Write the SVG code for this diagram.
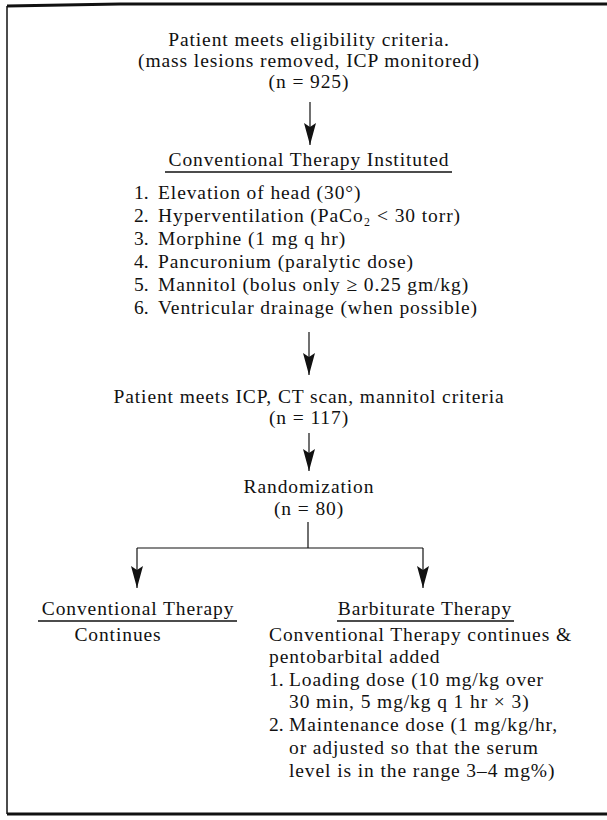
<svg xmlns="http://www.w3.org/2000/svg" width="607" height="820" viewBox="0 0 607 820">
<style>
  text { font-family: "Liberation Serif", "Times New Roman", serif; font-size: 19.5px; letter-spacing: 0.9px; fill: #111; }
  .c { text-anchor: middle; }
  .num { letter-spacing: 0; }
  .frame { stroke: #111; fill: none; }
  .ul { stroke: #111; stroke-width: 1.6; }
  .conn { stroke: #111; stroke-width: 1.2; fill: none; }
  .arr { marker-end: url(#ah); }
</style>
<defs>
  <marker id="ah" viewBox="-1 -7 24 14" refX="22" refY="0" markerWidth="24" markerHeight="14" markerUnits="userSpaceOnUse" orient="auto">
    <path d="M0,-6 L22,0 L0,6 L4,0 Z" fill="#111"/>
  </marker>
</defs>
<rect width="607" height="820" fill="#fff"/>
<g id="frame">
  <path class="frame" stroke-width="2.8" d="M7,6 L120,4 L607,4"/>
  <path class="frame" stroke-width="1.5" d="M7,6 L7,814"/>
  <path class="frame" stroke-width="2.8" d="M7,814 L607,814"/>
</g>
<g id="eligibility">
  <text class="c" x="309" y="46">Patient meets eligibility criteria.</text>
  <text class="c" x="309" y="67">(mass lesions removed, ICP monitored)</text>
  <text class="c" x="309" y="88">(n = 925)</text>
</g>
<g id="conventional-instituted">
  <text class="c" x="309" y="166">Conventional Therapy Instituted</text>
  <line class="ul" x1="165" y1="172" x2="452" y2="172"/>
  <text y="199"><tspan class="num" x="134">1.</tspan><tspan x="158">Elevation of head (30°)</tspan></text>
  <text y="222"><tspan class="num" x="134">2.</tspan><tspan x="158">Hyperventilation (PaCo₂ &lt; 30 torr)</tspan></text>
  <text y="245"><tspan class="num" x="134">3.</tspan><tspan x="158">Morphine (1 mg q hr)</tspan></text>
  <text y="268"><tspan class="num" x="134">4.</tspan><tspan x="158">Pancuronium (paralytic dose)</tspan></text>
  <text y="291"><tspan class="num" x="134">5.</tspan><tspan x="158">Mannitol (bolus only ≥ 0.25 gm/kg)</tspan></text>
  <text y="314"><tspan class="num" x="134">6.</tspan><tspan x="158">Ventricular drainage (when possible)</tspan></text>
</g>
<g id="icp-criteria">
  <text class="c" x="309" y="403">Patient meets ICP, CT scan, mannitol criteria</text>
  <text class="c" x="309" y="424">(n = 117)</text>
</g>
<g id="randomization">
  <text class="c" x="309" y="493">Randomization</text>
  <text class="c" x="309" y="515">(n = 80)</text>
</g>
<g id="conventional-arm">
  <text class="c" x="138" y="615">Conventional Therapy</text>
  <line class="ul" x1="38" y1="621" x2="237" y2="621"/>
  <text class="c" x="118" y="641">Continues</text>
</g>
<g id="barbiturate-arm">
  <text class="c" x="425" y="615">Barbiturate Therapy</text>
  <line class="ul" x1="337" y1="621" x2="514" y2="621"/>
  <text x="269" y="641">Conventional Therapy continues &amp;</text>
  <text x="269" y="663">pentobarbital added</text>
  <text y="686"><tspan class="num" x="269">1.</tspan><tspan x="289">Loading dose (10 mg/kg over</tspan></text>
  <text x="289" y="708">30 min, 5 mg/kg q 1 hr × 3)</text>
  <text y="731"><tspan class="num" x="269">2.</tspan><tspan x="289">Maintenance dose (1 mg/kg/hr,</tspan></text>
  <text x="289" y="754">or adjusted so that the serum</text>
  <text x="289" y="777">level is in the range 3–4 mg%)</text>
</g>
<g id="connectors">
  <path class="conn arr" d="M310,102 V145"/>
  <path class="conn arr" d="M309,332 V375"/>
  <path class="conn arr" d="M309,433 V471"/>
  <path class="conn" d="M308,522 V548 M137,548 H423"/>
  <path class="conn arr" d="M137,548 V588"/>
  <path class="conn arr" d="M423,548 V588"/>
</g>
</svg>
